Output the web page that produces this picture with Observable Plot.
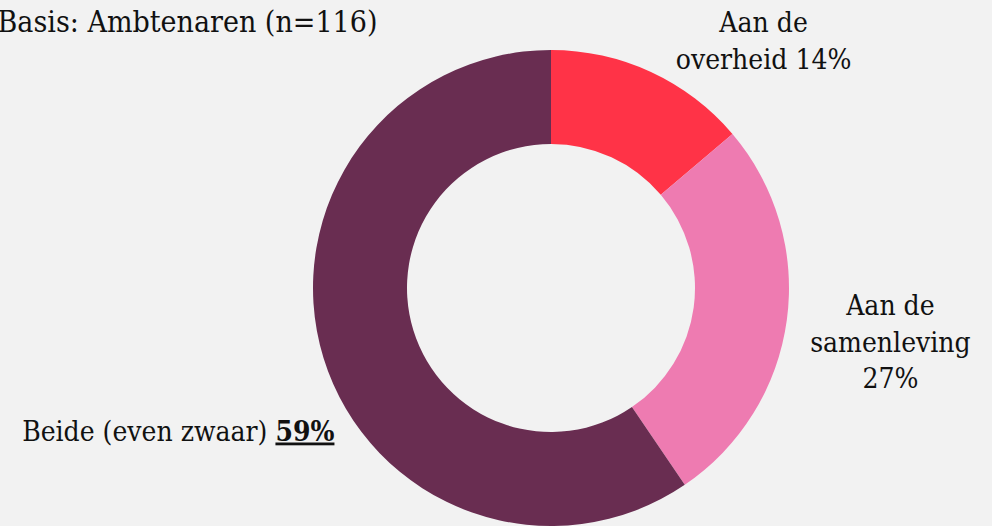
<!DOCTYPE html>
<html><head><meta charset="utf-8">
<script src="https://cdn.jsdelivr.net/npm/d3@7"></script>
<script src="https://cdn.jsdelivr.net/npm/@observablehq/plot@0.6"></script>
<style>
html,body{margin:0;padding:0;background:#f2f2f2;overflow:hidden}
svg text{font-family:"DejaVu Serif Condensed","DejaVu Serif",serif;font-stretch:condensed}
</style></head><body><div id="chart"></div>
<script>
// ---- data ----
const categories = ["Aan de overheid", "Aan de samenleving", "Beide (even zwaar)"];
const shares = [13.8, 26.7, 59.5];
const labelTexts = ["Aan de\noverheid 14%", "Aan de\nsamenleving\n27%", "Beide (even zwaar)"];
const boldTexts = ["", "", "59%"];
const colors = ["#ff3347", "#ee7bb1", "#692d51"];
const title = "Basis: Ambtenaren (n=116)";

// ---- layout (unit = outer radius) ----
const W = 992, H = 526, CX = 551, CY = 288, R = 238, INNER = 144 / 238;
const labelX = [0.891, 1.424, -0.912];
const labelY = [1.049, -0.216, -0.601];
const labelAnchor = ["middle", "middle", "end"];

const data = categories.map((c, i) => ({
  category: c, share: shares[i], label: labelTexts[i], bold: boldTexts[i],
  lx: labelX[i], ly: labelY[i], anchor: labelAnchor[i]
}));
const colorOf = d3.scaleOrdinal(categories, colors);
const arcs = d3.pie().sort(null).value(d => d.share)(data);

function donut(index, scales) {
  const px = scales.x(0), py = scales.y(0);
  const rad = Math.abs(scales.x(1) - scales.x(0));
  const arc = d3.arc().innerRadius(rad * INNER).outerRadius(rad);
  const g = d3.create("svg:g").attr("transform", `translate(${px},${py})`);
  g.selectAll("path").data(arcs).join("path")
    .attr("d", arc).attr("fill", d => colorOf(d.data.category));
  return g.node();
}

const fontSize = 28;
const chart = Plot.plot({
  width: W, height: H, margin: 0,
  style: {background: "#f2f2f2"},
  x: {domain: [-CX / R, (W - CX) / R], axis: null},
  y: {domain: [-(H - CY) / R, CY / R], axis: null},
  marks: [
    donut,
    Plot.text(data.filter(d => d.anchor === "middle"), {
      x: "lx", y: "ly", text: "label", fontSize, lineHeight: 1.3,
      textAnchor: "middle", lineAnchor: "middle", fill: "#111"
    }),
    Plot.text(data.filter(d => d.anchor === "end"), {
      x: "lx", y: "ly", text: d => d.label + " " + d.bold, fontSize,
      textAnchor: "end", lineAnchor: "middle", fill: "#111"
    }),
    Plot.text([title], {
      frameAnchor: "top-left", text: d => d, fontSize: 30, dx: -3, dy: 10,
      textAnchor: "start", lineAnchor: "top", fill: "#111"
    })
  ]
});
document.getElementById("chart").appendChild(chart);

// style the bold, underlined share inside the "Beide" label
d3.select(chart).selectAll("text").each(function() {
  const t = d3.select(this);
  const d = data.find(e => e.bold && t.text() === e.label + " " + e.bold);
  if (!d) return;
  t.text(null);
  t.append("tspan").text(d.label + " ");
  t.append("tspan").text(d.bold).attr("font-weight", "bold")
    .style("text-decoration", "underline")
    .style("text-decoration-thickness", "3px")
    .style("text-underline-offset", "5px");
});
</script></body></html>
